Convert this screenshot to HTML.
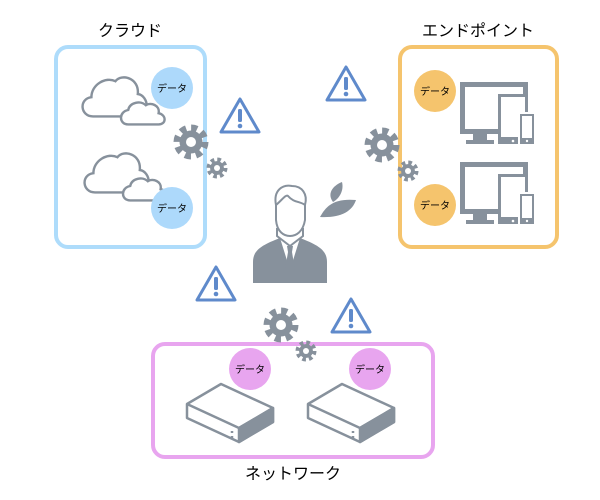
<!DOCTYPE html>
<html><head><meta charset="utf-8"><style>
body{margin:0;background:#fff;}
svg{display:block;}
text{font-family:"Liberation Sans","Noto Sans CJK JP",sans-serif;}
</style></head><body>
<svg width="600" height="500" viewBox="0 0 600 500">
<defs>
<g id="gear">
<circle r="14" fill="none" stroke="#87919c" stroke-width="7" stroke-dasharray="6 5"/>
<circle r="11.5" fill="#87919c"/>
<circle r="5" fill="#fff"/>
</g>
<g id="warn">
<path d="M0,-18 L19,15 L-19,15 Z" fill="#fff" stroke="#5f8acb" stroke-width="3" stroke-linejoin="round"/>
<rect x="-2" y="-8" width="4" height="13" rx="1.5" fill="#5f8acb"/>
<circle cx="0" cy="9" r="2.3" fill="#5f8acb"/>
</g>
<g id="cloud" fill="#fff" stroke="#87919c" stroke-width="3">
<path d="M0,48 C-16,48 -18,26 -2,24 C-2,8 16,-2 28,4 C36,-6 58,0 56,20 C70,22 72,48 56,48 Z"/>
<path d="M44,58 C32,58 32,42 44,40 C46,30 60,28 66,34 C72,30 84,34 82,44 C92,46 92,58 82,58 Z"/>
</g>
<g id="dev">
<path d="M0,0 H68 V12 H38 V52 H27 V58 H34 V62 H6 V58 H13 V52 H0 Z" fill="#87919c"/>
<rect x="5" y="5" width="58" height="42" fill="#fff"/>
<rect x="38" y="12" width="30" height="50" fill="#87919c"/>
<rect x="41" y="15" width="24" height="40" fill="#fff"/>
<circle cx="53" cy="59" r="1.3" fill="#fff"/>
<rect x="58" y="30" width="18" height="32" fill="#fff"/>
<rect x="60" y="32" width="14" height="30" fill="#87919c"/>
<rect x="62" y="34" width="10" height="22" fill="#fff"/>
<circle cx="67" cy="59" r="1.2" fill="#fff"/>
</g>
<g id="hdd" fill="#fff" stroke="#87919c" stroke-width="2.5" stroke-linejoin="round">
<path d="M0,22 L34,2 L86,26 L86,40 L52,60 L0,36 Z"/>
<path d="M0,22 L52,46 L86,26" fill="none"/>
<path d="M52,46 L52,60 L86,40 L86,26 Z" fill="#87919c"/>
<line x1="45" y1="49" x2="45" y2="51" />
<line x1="45" y1="54" x2="45" y2="56" />
</g>
</defs>

<rect x="56" y="47" width="149" height="200" rx="12" fill="#fff" stroke="#aedcfb" stroke-width="4"/>
<rect x="400" y="47" width="157" height="200" rx="12" fill="#fff" stroke="#f5c46d" stroke-width="4"/>
<rect x="153" y="344" width="280" height="113" rx="12" fill="#fff" stroke="#e8a5ef" stroke-width="4"/>

<text x="130" y="36" font-size="16" text-anchor="middle">クラウド</text>
<text x="478" y="36" font-size="16" text-anchor="middle">エンドポイント</text>
<text x="293" y="479" font-size="16" text-anchor="middle">ネットワーク</text>

<use href="#cloud" transform="translate(93,78) scale(0.8)"/>
<use href="#cloud" transform="translate(95,154) scale(0.8)"/>

<g font-size="10" text-anchor="middle">
<circle cx="172" cy="88" r="21" fill="#add9fb"/><text x="172" y="92">データ</text>
<circle cx="172" cy="208" r="21" fill="#add9fb"/><text x="172" y="212">データ</text>
</g>

<use href="#dev" x="460" y="82"/>
<use href="#dev" x="460" y="162"/>
<g font-size="10" text-anchor="middle">
<circle cx="435" cy="91" r="21" fill="#f5c46d"/><text x="435" y="95">データ</text>
<circle cx="435" cy="205" r="21" fill="#f5c46d"/><text x="435" y="209">データ</text>
</g>

<use href="#hdd" x="187" y="382"/>
<use href="#hdd" x="308" y="382"/>
<g font-size="10" text-anchor="middle">
<circle cx="250" cy="369" r="21" fill="#e8a5ef"/><text x="250" y="373">データ</text>
<circle cx="370" cy="369" r="21" fill="#e8a5ef"/><text x="370" y="373">データ</text>
</g>

<use href="#gear" transform="translate(191,142)"/>
<use href="#gear" transform="translate(217,168) scale(0.6)"/>
<use href="#gear" transform="translate(382,145)"/>
<use href="#gear" transform="translate(408,171) scale(0.6)"/>
<use href="#gear" transform="translate(281,325)"/>
<use href="#gear" transform="translate(306,351) scale(0.6)"/>

<use href="#warn" x="240" y="117"/>
<use href="#warn" x="346" y="85"/>
<use href="#warn" x="216" y="285"/>
<use href="#warn" x="351" y="317"/>

<path d="M253,283 L253,262 C253,250 262,245 280,238 L290,246 L300,238 C318,245 327,250 327,262 L327,283 Z" fill="#87919c"/>
<path d="M280,238 L290,246 L300,238 L290,270 Z" fill="#fff"/>
<path d="M287,246 L293,246 L292,252 L295,270 L290,276 L285,270 L288,252 Z" fill="#87919c"/>
<path d="M277,228 L277,236 L290,246 L303,236 L303,228" fill="#fff" stroke="#87919c" stroke-width="2"/>
<path d="M276,205 C273,190 283,184 292,186 C302,186 308,194 305,205 L305,220 C303,232 296,236 290,236 C284,236 277,232 276,220 Z" fill="#fff" stroke="#87919c" stroke-width="2"/>
<path d="M276,205 C282,200 286,194 288,196 C294,203 300,201 305,205" fill="none" stroke="#87919c" stroke-width="2"/>
<path d="M320,217 C326,206 334,198 356,200 C352,212 340,218 320,217 Z" fill="#87919c"/>
<path d="M333,202 C327,194 332,186 342,182 C344,190 340,198 333,202 Z" fill="#87919c"/>
</svg>
</body></html>
